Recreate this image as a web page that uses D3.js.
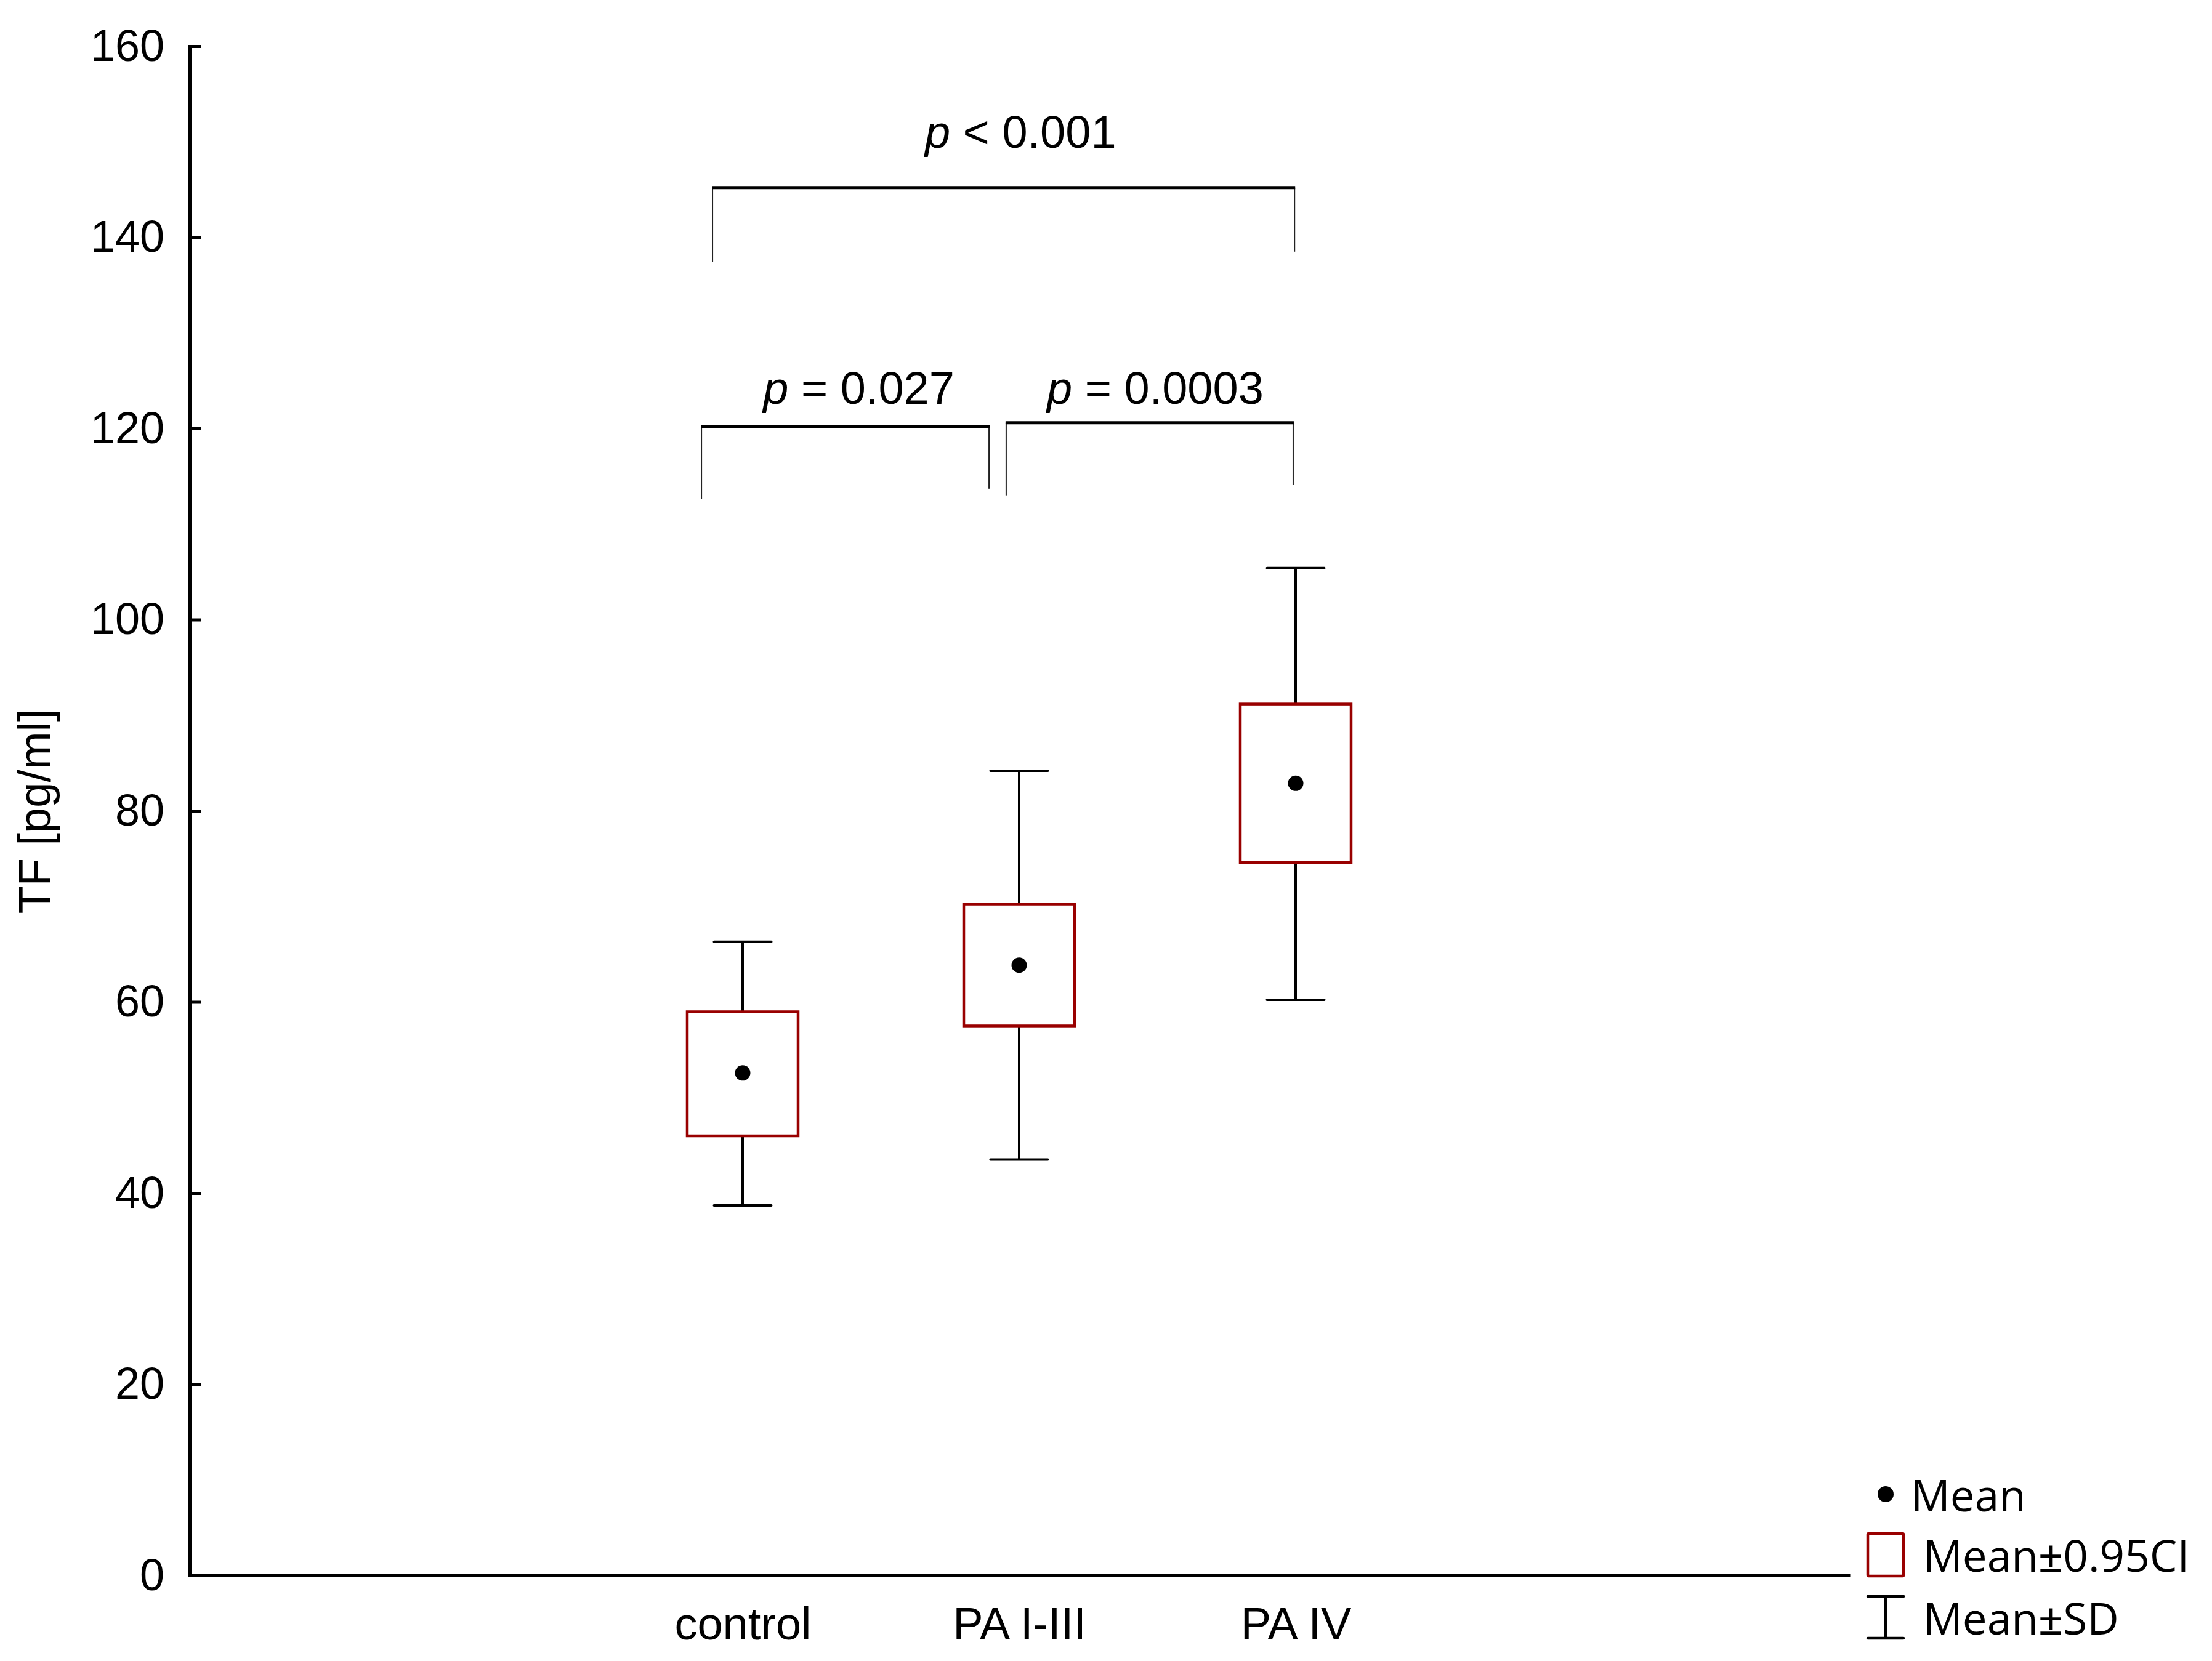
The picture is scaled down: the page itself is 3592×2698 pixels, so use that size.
<!DOCTYPE html>
<html>
<head>
<meta charset="utf-8">
<script src="https://cdn.jsdelivr.net/npm/d3@7/dist/d3.min.js"></script>
<style>
  html, body { margin: 0; padding: 0; background: #ffffff; }
  svg { display: block; }
</style>
</head>
<body>
<svg id="chart" width="3592" height="2698"></svg>
<script>
// ---------- data ----------
const categories = ["control", "PA I-III", "PA IV"];
const categoryPos = [2, 3, 4];              // positions on the x axis (domain 0..6)
const means  = [52.57, 63.85, 82.88];
const ciLow  = [45.99, 57.49, 74.60];
const ciHigh = [58.97, 70.24, 91.17];
const sdLow  = [38.71, 43.51, 60.22];
const sdHigh = [66.29, 84.19, 105.40];

const yTicks = [0, 20, 40, 60, 80, 100, 120, 140, 160];
const yLabel = "TF [pg/ml]";

// significance brackets (x in axis units, y in data units)
const pPrefix     = ["p", "p", "p"];
const pRest       = [" < 0.001", " = 0.027", " = 0.0003"];
const pTextX      = [3.005, 2.420, 3.492];
const pTextY      = [149.4, 122.6, 122.6];
const brLeftX     = [1.891, 1.851, 2.953];
const brRightX    = [3.996, 2.891, 3.991];
const brTopY      = [145.2, 120.2, 120.6];
const brLeftEndY  = [137.4, 112.6, 113.0];
const brRightEndY = [138.5, 113.7, 114.1];

const legendLabels = ["Mean", "Mean\u00B10.95CI", "Mean\u00B1SD"];

// ---------- layout ----------
const svg = d3.select("#chart");
svg.append("rect").attr("width", 3592).attr("height", 2698).attr("fill", "#fff");

const x = d3.scaleLinear().domain([0, 6]).range([308, 3002]);
const y = d3.scaleLinear().domain([0, 160]).range([2559, 75]);

const FONT = "'Liberation Sans', Arial, Helvetica, sans-serif";
const BOXRED = "#990000";

// y axis
const yAxis = svg.append("g")
  .attr("transform", `translate(${x(0)},0)`)
  .call(d3.axisLeft(y).tickValues(yTicks).tickSizeInner(-18).tickSizeOuter(0).tickPadding(41));
yAxis.select(".domain").attr("stroke", "#000").attr("stroke-width", 5).attr("stroke-linecap", "square");
yAxis.selectAll(".tick line").attr("stroke", "#000").attr("stroke-width", 5);
yAxis.selectAll(".tick text")
  .attr("fill", "#000").style("font-family", FONT).style("font-size", "72px");

// x axis line
svg.append("line")
  .attr("x1", x(0)).attr("x2", x(6))
  .attr("y1", y(0)).attr("y2", y(0))
  .attr("stroke", "#000").attr("stroke-width", 5).attr("stroke-linecap", "square");

// x category labels
const xAxis = svg.append("g")
  .attr("transform", `translate(0,${y(0)})`)
  .call(d3.axisBottom(x).tickValues(categoryPos)
        .tickFormat((d, i) => categories[i]).tickSize(0).tickPadding(51));
xAxis.select(".domain").remove();
xAxis.selectAll(".tick text")
  .attr("fill", "#000").style("font-family", FONT).style("font-size", "74px");

// y label
svg.append("text")
  .attr("transform", `translate(82,${(y(0) + y(160)) / 2 + 1}) rotate(-90)`)
  .attr("text-anchor", "middle")
  .style("font-family", FONT).style("font-size", "74px")
  .attr("fill", "#000")
  .text(yLabel);

// ---------- marks ----------
const boxHalf = 90;   // px
const capHalf = 46.5; // px
const g = svg.append("g");

categories.forEach((c, i) => {
  const cx = x(categoryPos[i]);
  // whisker (SD)
  g.append("line").attr("x1", cx).attr("x2", cx)
    .attr("y1", y(sdHigh[i])).attr("y2", y(ciHigh[i]))
    .attr("stroke", "#000").attr("stroke-width", 4);
  g.append("line").attr("x1", cx).attr("x2", cx)
    .attr("y1", y(ciLow[i])).attr("y2", y(sdLow[i]))
    .attr("stroke", "#000").attr("stroke-width", 4);
  [sdHigh[i], sdLow[i]].forEach(v => {
    g.append("line").attr("x1", cx - capHalf).attr("x2", cx + capHalf)
      .attr("y1", y(v)).attr("y2", y(v))
      .attr("stroke", "#000").attr("stroke-width", 4).attr("stroke-linecap", "round");
  });
  // CI box
  g.append("rect")
    .attr("x", cx - boxHalf).attr("width", boxHalf * 2)
    .attr("y", y(ciHigh[i])).attr("height", y(ciLow[i]) - y(ciHigh[i]))
    .attr("fill", "none").attr("stroke", BOXRED).attr("stroke-width", 4.5);
  // mean
  g.append("circle").attr("cx", cx).attr("cy", y(means[i])).attr("r", 12.5).attr("fill", "#000");
});

// ---------- brackets ----------
const br = svg.append("g");
pRest.forEach((t, i) => {
  br.append("line")
    .attr("x1", x(brLeftX[i])).attr("x2", x(brLeftX[i]))
    .attr("y1", y(brTopY[i])).attr("y2", y(brLeftEndY[i]))
    .attr("stroke", "#222").attr("stroke-width", 2);
  br.append("line")
    .attr("x1", x(brRightX[i])).attr("x2", x(brRightX[i]))
    .attr("y1", y(brTopY[i])).attr("y2", y(brRightEndY[i]))
    .attr("stroke", "#222").attr("stroke-width", 2);
  br.append("line")
    .attr("x1", x(brLeftX[i]) - 1).attr("x2", x(brRightX[i]) + 1)
    .attr("y1", y(brTopY[i])).attr("y2", y(brTopY[i]))
    .attr("stroke", "#000").attr("stroke-width", 5);
  const tx = br.append("text")
    .attr("x", x(pTextX[i])).attr("y", y(pTextY[i]))
    .attr("text-anchor", "middle")
    .style("font-family", FONT).style("font-size", "74px")
    .attr("fill", "#000");
  tx.append("tspan").style("font-style", "italic").text(pPrefix[i]);
  tx.append("tspan").text(t);
});

// ---------- legend ----------
const LFONT = "'Open Sans', 'Noto Sans', sans-serif";
const leg = svg.append("g");
const lx = 3062; // icon centre
leg.append("circle").attr("cx", lx).attr("cy", 2427).attr("r", 13).attr("fill", "#000");
leg.append("text").attr("x", 3103).attr("y", 2455)
  .style("font-family", LFONT).style("font-size", "71px").attr("fill", "#000").text(legendLabels[0]);

leg.append("rect").attr("x", 3033).attr("y", 2491).attr("width", 58).attr("height", 69)
  .attr("fill", "none").attr("stroke", BOXRED).attr("stroke-width", 4.5).attr("rx", 1.5);
leg.append("text").attr("x", 3123).attr("y", 2553)
  .style("font-family", LFONT).style("font-size", "71px").attr("fill", "#000").text(legendLabels[1]);

leg.append("line").attr("x1", lx).attr("x2", lx).attr("y1", 2593).attr("y2", 2661)
  .attr("stroke", "#000").attr("stroke-width", 4.5);
[2593, 2661].forEach(yy => {
  leg.append("line").attr("x1", 3033).attr("x2", 3091).attr("y1", yy).attr("y2", yy)
    .attr("stroke", "#000").attr("stroke-width", 4.5).attr("stroke-linecap", "round");
});
leg.append("text").attr("x", 3123).attr("y", 2655)
  .style("font-family", LFONT).style("font-size", "71px").attr("fill", "#000").text(legendLabels[2]);
</script>
</body>
</html>
